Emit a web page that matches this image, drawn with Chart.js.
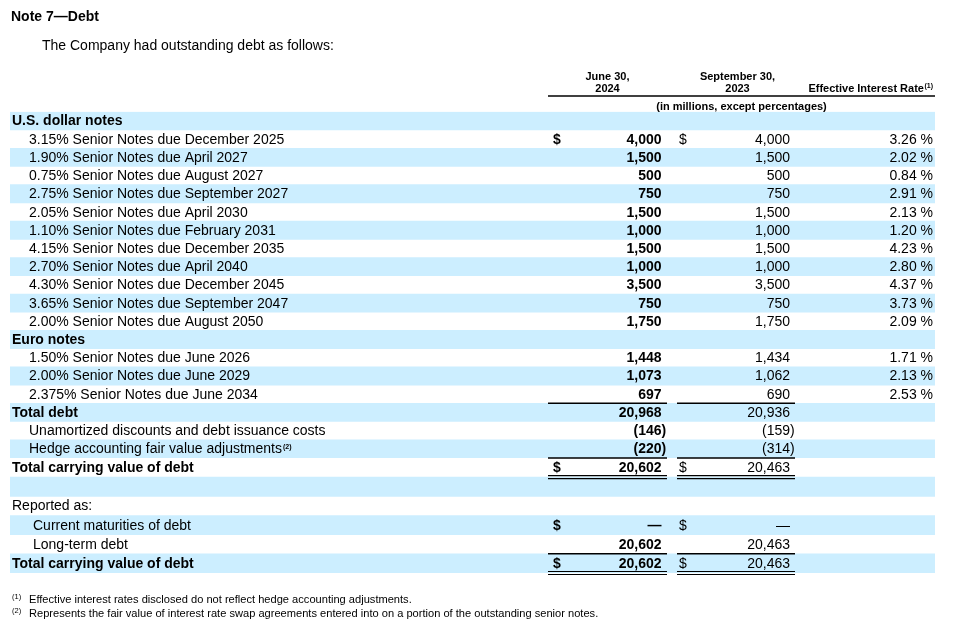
<!DOCTYPE html>
<html>
<head>
<meta charset="utf-8">
<title>Note 7—Debt</title>
<script src="https://cdn.jsdelivr.net/npm/chart.js@4.4.1/dist/chart.umd.min.js"></script>
<style>
  html, body { margin: 0; padding: 0; background: #fff; }
  .wrap { position: relative; width: 955px; height: 625px; }
</style>
</head>
<body>
<div class="wrap"><canvas id="debtTable"></canvas></div>
<script>
// Table data
const title = 'Note 7—Debt';
const intro = 'The Company had outstanding debt as follows:';
const rowLabels = [
    'U.S. dollar notes',
    '3.15% Senior Notes due December 2025',
    '1.90% Senior Notes due April 2027',
    '0.75% Senior Notes due August 2027',
    '2.75% Senior Notes due September 2027',
    '2.05% Senior Notes due April 2030',
    '1.10% Senior Notes due February 2031',
    '4.15% Senior Notes due December 2035',
    '2.70% Senior Notes due April 2040',
    '4.30% Senior Notes due December 2045',
    '3.65% Senior Notes due September 2047',
    '2.00% Senior Notes due August 2050',
    'Euro notes',
    '1.50% Senior Notes due June 2026',
    '2.00% Senior Notes due June 2029',
    '2.375% Senior Notes due June 2034',
    'Total debt',
    'Unamortized discounts and debt issuance costs',
    'Hedge accounting fair value adjustments',
    'Total carrying value of debt',
    '',
    'Reported as:',
    'Current maturities of debt',
    'Long-term debt',
    'Total carrying value of debt'
];
const june2024 = [null, 4000, 1500, 500, 750, 1500, 1000, 1500, 1000, 3500, 750, 1750,
    null, 1448, 1073, 697, 20968, -146, -220, 20602, null, null, 0, 20602, 20602];
const sept2023 = [null, 4000, 1500, 500, 750, 1500, 1000, 1500, 1000, 3500, 750, 1750,
    null, 1434, 1062, 690, 20936, -159, -314, 20463, null, null, 0, 20463, 20463];
const effectiveRates = [null, 3.26, 2.02, 0.84, 2.91, 2.13, 1.20, 4.23, 2.80, 4.37, 3.73, 2.09,
    null, 1.71, 2.13, 2.53, null, null, null, null, null, null, null, null, null];
const juneHead = ['June 30,', '2024'];
const septHead = ['September 30,', '2023'];
const rateHead = 'Effective Interest Rate';
const unitsNote = '(in millions, except percentages)';
const labelMarks = { 18: '(2)' };
const footnotes = [
    ['(1)', 'Effective interest rates disclosed do not reflect hedge accounting adjustments.'],
    ['(2)', 'Represents the fair value of interest rate swap agreements entered into on a portion of the outstanding senior notes.']
];

// Row styling, kept apart from the values
const boldRows = [0, 12, 16, 19, 24];
const rowIndent = [0, 1, 1, 1, 1, 1, 1, 1, 1, 1, 1, 1, 0, 1, 1, 1, 0, 1, 1, 0, 0, 0, 2, 2, 0];
const dollarRows = [1, 19, 22, 24];
const singleRule = [15, 18, 23];
const doubleRule = [19, 24];
// rows from SPLIT on sit in a second, slightly taller block (totals + "Reported as")
const SPLIT = 19;

// Column anchors in page pixels (the x scale runs 10..935)
const COL = {
    indent: [12, 29, 33],
    juneDollar: 553, juneRight: 661.5,
    sepDollar: 679, sepRight: 790,
    rateRight: 933,
    juneRule: [548, 667], sepRule: [677, 795], headRule: [548, 935]
};
const FONT = '"Liberation Sans", Arial, sans-serif';
const STRIPE = '#cceeff';

const fmt = v => v === 0 ? '—' : v < 0 ? `(${Math.abs(v).toLocaleString('en-US')})` : v.toLocaleString('en-US');

const tablePlugin = {
    id: 'tableText',
    afterDatasetsDraw(chart) {
        const { ctx, scales } = chart;
        const x = scales.x;
        const px = v => x.getPixelForValue(v);
        const rowScale = i => i < SPLIT ? scales.yTop : scales.yBottom;
        const rowY = i => rowScale(i).getPixelForValue(i < SPLIT ? i : i - SPLIT);
        const rowH = i => {
            const s = rowScale(i);
            return s.getPixelForValue(1) - s.getPixelForValue(0);
        };

        ctx.save();
        ctx.fillStyle = '#000';
        ctx.strokeStyle = '#000';
        ctx.textBaseline = 'alphabetic';

        // Title and intro
        ctx.textAlign = 'left';
        ctx.font = `bold 14px ${FONT}`;
        ctx.fillText(title, 11, 21);
        ctx.font = `14px ${FONT}`;
        ctx.fillText(intro, 42, 50);

        // Column headings
        ctx.font = `bold 11px ${FONT}`;
        ctx.textAlign = 'center';
        ctx.fillText(juneHead[0], 607.5, 80);
        ctx.fillText(juneHead[1], 607.5, 92);
        ctx.fillText(septHead[0], 737.5, 80);
        ctx.fillText(septHead[1], 737.5, 92);
        ctx.fillText(unitsNote, 741.5, 109.5);
        ctx.font = `bold 7px ${FONT}`;
        const supW = ctx.measureText('(1)').width;
        ctx.textAlign = 'left';
        ctx.fillText('(1)', px(COL.rateRight) - supW, 88);
        ctx.font = `bold 11px ${FONT}`;
        ctx.textAlign = 'right';
        ctx.fillText(rateHead, px(COL.rateRight) - supW - 0.5, 92);

        ctx.lineWidth = 1.5;
        const rule = (span, yy) => {
            ctx.beginPath();
            ctx.moveTo(px(span[0]), yy);
            ctx.lineTo(px(span[1]), yy);
            ctx.stroke();
        };
        rule(COL.headRule, 96);

        // Rows
        rowLabels.forEach((label, i) => {
            const base = rowY(i) + 4.5;
            const bold = boldRows.includes(i);
            ctx.textAlign = 'left';
            ctx.font = `${bold ? 'bold ' : ''}14px ${FONT}`;
            const lx = px(COL.indent[rowIndent[i]]);
            ctx.fillText(label, lx, base);
            if (labelMarks[i]) {
                const w = ctx.measureText(label).width;
                ctx.font = `bold 7px ${FONT}`;
                ctx.fillText(labelMarks[i], lx + w + 1, base - 4);
            }

            const cells = [
                [june2024[i], COL.juneDollar, COL.juneRight, 'bold '],
                [sept2023[i], COL.sepDollar, COL.sepRight, '']
            ];
            cells.forEach(([v, dollarX, rightX, weight]) => {
                ctx.font = `${weight}14px ${FONT}`;
                if (dollarRows.includes(i)) {
                    ctx.textAlign = 'left';
                    ctx.fillText('$', px(dollarX), base);
                }
                if (v === null) return;
                ctx.textAlign = 'right';
                const hang = v < 0 ? ctx.measureText(')').width : 0;
                ctx.fillText(fmt(v), px(rightX) + hang, base);
            });

            if (effectiveRates[i] !== null) {
                ctx.font = `14px ${FONT}`;
                ctx.textAlign = 'right';
                ctx.fillText(`${effectiveRates[i].toFixed(2)} %`, px(COL.rateRight), base);
            }

            const bottom = rowY(i) + rowH(i) / 2;
            if (singleRule.includes(i)) {
                rule(COL.juneRule, bottom);
                rule(COL.sepRule, bottom);
            }
            if (doubleRule.includes(i)) {
                ctx.lineWidth = 1.2;
                [bottom - 1.5, bottom + 1.5].forEach(yy => {
                    rule(COL.juneRule, yy);
                    rule(COL.sepRule, yy);
                });
                ctx.lineWidth = 1.5;
            }
        });

        // Footnotes
        footnotes.forEach(([mark, text], k) => {
            const base = 603 + k * 14;
            ctx.textAlign = 'left';
            ctx.font = `7.5px ${FONT}`;
            ctx.fillText(mark, 12, base - 4);
            ctx.font = `11.1px ${FONT}`;
            ctx.fillText(text, 29, base);
        });
        ctx.restore();
    }
};

const topRows = rowLabels.slice(0, SPLIT);
const bottomRows = rowLabels.slice(SPLIT);

const chart = new Chart(document.getElementById('debtTable'), {
    type: 'bar',
    data: {
        datasets: [{
            label: 'stripes-top',
            yAxisID: 'yTop',
            data: topRows.map((_, i) => i % 2 === 0 ? [10, 935] : null),
            backgroundColor: STRIPE,
            borderWidth: 0,
            grouped: false,
            barPercentage: 1,
            categoryPercentage: 1
        }, {
            label: 'stripes-bottom',
            yAxisID: 'yBottom',
            // bottom block starts on a white row (Total carrying value of debt)
            data: bottomRows.map((_, i) => i % 2 === 1 ? [10, 935] : null),
            backgroundColor: STRIPE,
            borderWidth: 0,
            grouped: false,
            barPercentage: 1,
            categoryPercentage: 1
        }]
    },
    options: {
        indexAxis: 'y',
        responsive: true,
        maintainAspectRatio: false,
        animation: false,
        events: [],
        layout: {
            padding: { top: 111.8, bottom: 52, left: 10, right: 20 }
        },
        scales: {
            x: { type: 'linear', min: 10, max: 935, display: false },
            yTop: {
                type: 'category', labels: topRows, offset: true, display: false,
                position: 'right', stack: 'rows', stackWeight: 346
            },
            yBottom: {
                type: 'category', labels: bottomRows, offset: true, display: false,
                position: 'right', stack: 'rows', stackWeight: 115
            }
        },
        plugins: {
            legend: { display: false },
            tooltip: { enabled: false }
        }
    },
    plugins: [tablePlugin]
});
</script>
</body>
</html>
